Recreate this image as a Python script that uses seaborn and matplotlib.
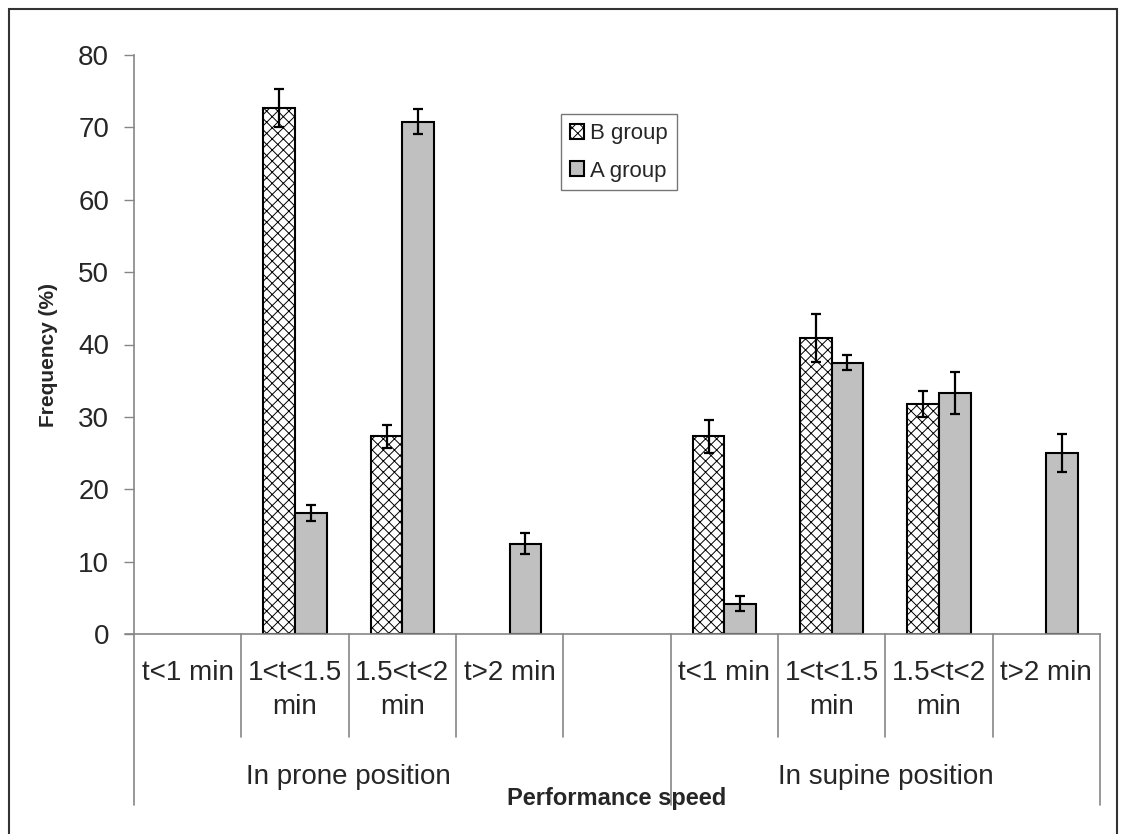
import numpy as np
import pandas as pd
import matplotlib
matplotlib.use("Agg")
import matplotlib.pyplot as plt
from matplotlib.patches import Patch, Rectangle
import matplotlib.transforms as mtransforms
import seaborn as sns

# ---------------- data ----------------
speed_labels = ["t<1 min", "1<t<1.5\nmin", "1.5<t<2\nmin", "t>2 min"]
positions = ["In prone position", "In supine position"]
groups = ["B group", "A group"]

b_prone = [np.nan, 72.7, 27.3, np.nan]
b_prone_err = [np.nan, 2.65, 1.55, np.nan]
a_prone = [np.nan, 16.7, 70.8, 12.5]
a_prone_err = [np.nan, 1.15, 1.75, 1.45]

b_supine = [27.3, 40.9, 31.8, np.nan]
b_supine_err = [2.3, 3.25, 1.8, np.nan]
a_supine = [4.2, 37.5, 33.3, 25.0]
a_supine_err = [1.0, 1.0, 2.9, 2.65]

y_ticks = [0, 10, 20, 30, 40, 50, 60, 70, 80]

# ---------------- styling ----------------
sns.set_theme(style="white")
plt.rcParams["font.family"] = ["Liberation Sans", "DejaVu Sans"]
plt.rcParams["hatch.linewidth"] = 0.7

GRAY_FILL = "#C0C0C0"
AXIS_GRAY = "#868686"

# slots: 4 prone, 1 empty, 4 supine
slot_keys = [f"prone|{s}" for s in speed_labels] + ["gap"] + [f"supine|{s}" for s in speed_labels]
slot_ticklabels = speed_labels + [""] + speed_labels

rows = []
for i, s in enumerate(speed_labels):
    rows.append(dict(slot=f"prone|{s}", group="B group", value=b_prone[i], err=b_prone_err[i]))
    rows.append(dict(slot=f"prone|{s}", group="A group", value=a_prone[i], err=a_prone_err[i]))
    rows.append(dict(slot=f"supine|{s}", group="B group", value=b_supine[i], err=b_supine_err[i]))
    rows.append(dict(slot=f"supine|{s}", group="A group", value=a_supine[i], err=a_supine_err[i]))
df = pd.DataFrame(rows)
df_plot = df.dropna(subset=["value"])

fig = plt.figure(figsize=(11.21, 8.34), dpi=100)
ax = fig.add_axes([134 / 1121, (834 - 634) / 834, 966 / 1121, 579 / 834])

sns.barplot(data=df_plot, x="slot", y="value", hue="group", order=slot_keys,
            hue_order=groups, palette=["white", GRAY_FILL], width=0.59,
            edgecolor="black", linewidth=1.5, errorbar=None, legend=False,
            saturation=1, ax=ax)

# hatch + error bars from the drawn bars
err_lookup = {(r.slot, r.group): r.err for r in df_plot.itertuples()}
xs, ys, es = [], [], []
for p in ax.patches:
    h = p.get_height()
    if not np.isfinite(h) or h == 0:
        continue
    cx = p.get_x() + p.get_width() / 2
    slot = slot_keys[int(round(cx))]
    is_b = p.get_facecolor()[0] > 0.9
    grp = "B group" if is_b else "A group"
    if is_b:
        p.set_hatch("xxx")
        try:
            p.set_hatchcolor("#3a3a3a")
        except AttributeError:
            pass
    p.set_zorder(2)
    xs.append(cx)
    ys.append(h)
    es.append(err_lookup[(slot, grp)])
ax.errorbar(xs, ys, yerr=es, fmt="none", ecolor="black", elinewidth=1.6,
            capsize=3.8, capthick=1.6, zorder=3)

ax.set_xlim(-0.5, 8.5)
ax.set_ylim(0, 80)
ax.set_yticks(y_ticks)
ax.set_yticklabels([str(v) for v in y_ticks], fontsize=20)
ax.tick_params(axis="y", direction="out", length=7, width=1, color=AXIS_GRAY,
               pad=11, left=True)
ax.set_xticks(range(len(slot_keys)))
ax.set_xticklabels(slot_ticklabels, fontsize=20, linespacing=1.4)
ax.tick_params(axis="x", length=0, pad=19)
ax.set_xlabel("")
ax.set_ylabel("")

for side in ["top", "right"]:
    ax.spines[side].set_visible(False)
for side in ["left", "bottom"]:
    ax.spines[side].set_color(AXIS_GRAY)
    ax.spines[side].set_linewidth(1.2)
# small extension of the x axis line to the left (like the 0 tick)
ax.plot([-0.585, -0.5], [0, 0], color=AXIS_GRAY, lw=1.2, clip_on=False,
        transform=ax.transData)

# category table lines
trans = mtransforms.blended_transform_factory(ax.transData, ax.transAxes)
short_bounds = [0.5, 1.5, 2.5, 3.5, 5.5, 6.5, 7.5]
long_bounds = [-0.5, 4.5, 8.5]
for b in short_bounds:
    ax.plot([b, b], [0, -0.178], color=AXIS_GRAY, lw=1.2, clip_on=False, transform=trans)
for b in long_bounds:
    ax.plot([b, b], [0, -0.2953], color=AXIS_GRAY, lw=1.2, clip_on=False, transform=trans)

# group labels
ax.text(1.5, -0.2465, positions[0], transform=trans, ha="center", va="center", fontsize=20)
ax.text(6.5, -0.2465, positions[1], transform=trans, ha="center", va="center", fontsize=20)

# axis titles
ax.text(0.5, -0.2845, "Performance speed", transform=ax.transAxes, ha="center",
        va="center", fontsize=17, fontweight="bold")
ax.text(-0.089, 0.482, "Frequency (%)", transform=ax.transAxes, ha="center",
        va="center", rotation=90, fontsize=15, fontweight="bold")

# legend
handles = [Patch(facecolor="white", edgecolor="black", hatch="xxx", linewidth=1.5, label="B group"),
           Patch(facecolor=GRAY_FILL, edgecolor="black", linewidth=1.5, label="A group")]
leg = ax.legend(handles=handles, loc="upper left", bbox_to_anchor=((561 - 134) / 966, (634 - 114) / 579),
                borderaxespad=0, fontsize=16, frameon=True, fancybox=False,
                handlelength=0.65, handleheight=0.65, handletextpad=0.25,
                labelspacing=0.75, borderpad=0.4)
leg.get_frame().set_edgecolor("#555555")
leg.get_frame().set_linewidth(1.0)

# outer chart border
fig.patches.append(Rectangle((9 / 1121, -0.05), (1117 - 9) / 1121, 1.05 - 9 / 834,
                             transform=fig.transFigure, fill=False,
                             edgecolor="#333333", linewidth=1.5))

fig.savefig("out.png", dpi=100)
